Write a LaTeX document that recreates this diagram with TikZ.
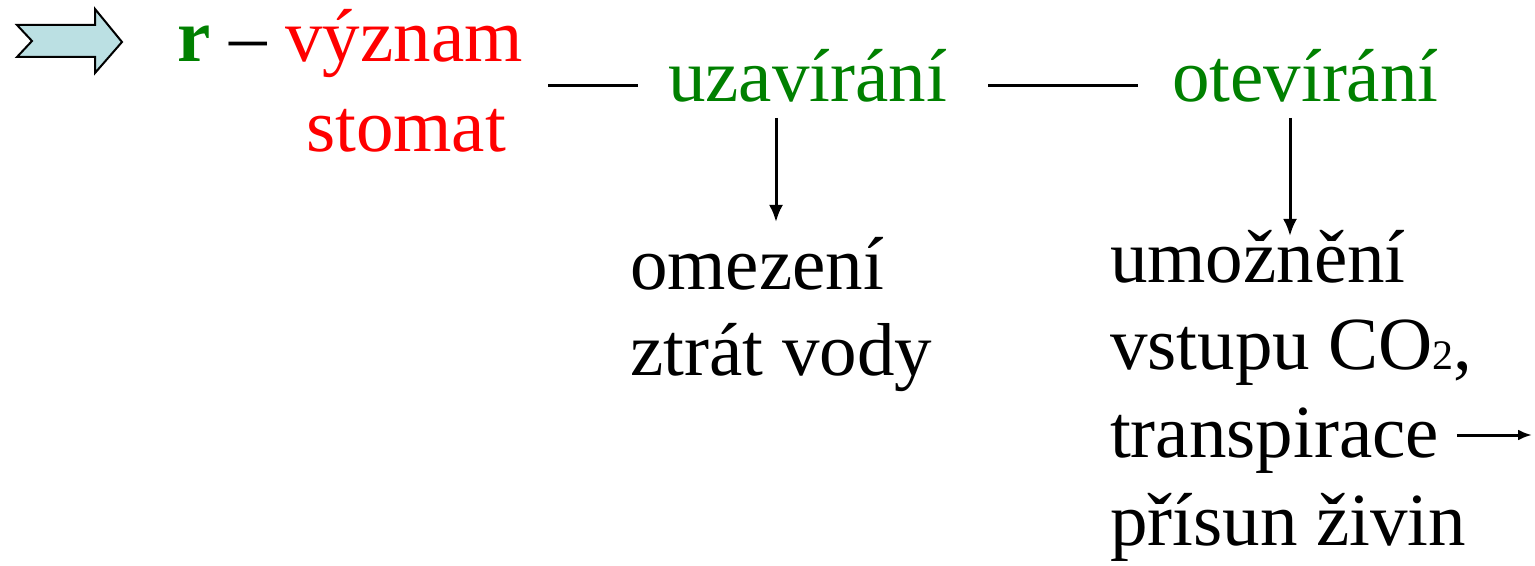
\documentclass[tikz,border=0pt]{standalone}
\usepackage{fontspec}
\setmainfont{Liberation Serif}
\usetikzlibrary{arrows.meta,calc}
\definecolor{pgreen}{HTML}{008000}
\definecolor{pred}{HTML}{FF0000}
\definecolor{arrowfill}{HTML}{BBE0E3}
\begin{document}
\begin{tikzpicture}[x=0.5pt,y=-0.5pt,
  txt/.style={anchor=base west,inner sep=0pt,outer sep=0pt,font=\fontsize{37.5}{44}\selectfont},
  conn/.style={line width=1.5pt},
  arr/.style={conn,-{Latex[length=8.5pt,width=7pt]}},
  smallarr/.style={conn,-{Latex[length=7pt,width=5.5pt]}},
  blockarrow/.style={draw=black,line width=1pt,fill=arrowfill,line join=miter}]
\useasboundingbox (0,0) rectangle (1535,566);
% block arrow
\draw[blockarrow] (17,25) -- (95,25) -- (95,9) -- (122,42) -- (95,73) -- (95,57) -- (17,57) -- (32,41) -- cycle;
% texts
\node[txt] (r) at (177,62) {\textcolor{pgreen}{\textbf{r}} – \textcolor{pred}{význam}};
\node[txt,text=pred] (st) at (306,152) {stomat};
\node[txt,text=pgreen] (uz) at (668,102) {uzavírání};
\node[txt,text=pgreen] (ot) at (1172,102) {otevírání};
\node[txt] (om) at (630,290) {omezení};
\node[txt] (zt) at (630,375) {ztrát vody};
\node[txt] (um) at (1110,283) {umožnění};
\node[txt] (vs) at (1110,370) {vstupu CO{\fontsize{21}{21}\selectfont 2},};
\node[txt] (tr) at (1110,457) {transpirace};
\node[txt] (pr) at (1110,545) {přísun živin};
\coordinate (trend) at (1532,435);
% connectors
\draw[conn] ($(uz.base west)+(-120,-16)$) -- ($(uz.base west)+(-30,-16)$);
\draw[conn] ($(ot.base west)+(-184,-16)$) -- ($(ot.base west)+(-34,-16)$);
\draw[arr] ($(uz.base west)+(108,16)$) -- ($(om.base west)+(146,-68)$);
\draw[arr] ($(ot.base west)+(118,16)$) -- ($(um.base west)+(180,-47)$);
\draw[smallarr] ($(tr.base east)+(18,-22)$) -- (trend);
\end{tikzpicture}
\end{document}
